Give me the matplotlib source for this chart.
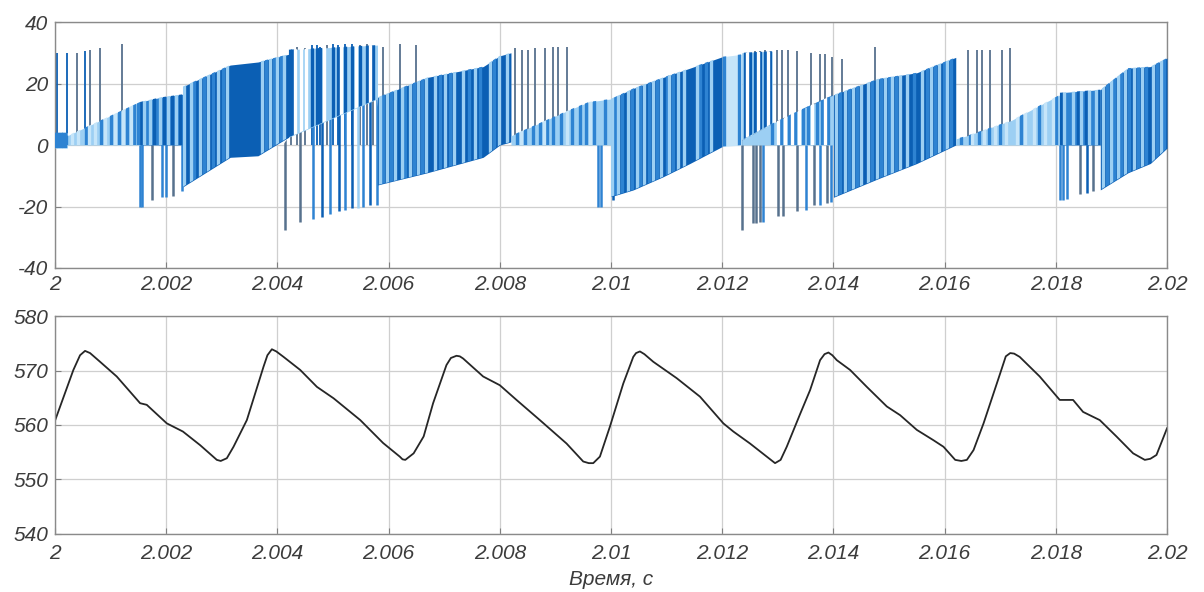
import numpy as np
import matplotlib
matplotlib.use("Agg")
import matplotlib.pyplot as plt
from matplotlib.patches import Polygon

# ---- axes / labels ----
xticks = [2.0, 2.002, 2.004, 2.006, 2.008, 2.01, 2.012, 2.014, 2.016, 2.018, 2.02]
xlabels = ['2', '2.002', '2.004', '2.006', '2.008', '2.01', '2.012', '2.014', '2.016', '2.018', '2.02']
i_ticks = [-40, -20, 0, 20, 40]
u_ticks = [540, 550, 560, 570, 580]
xlabel = 'Время, с'

# ---- current: dense PWM bands (time in ms after 2 s) ----
zA_t, zA_hi, zA_lo = [0.0, 0.22, 0.22, 1.53], [4, 4, 3, 14], [-1, -1, 0, 0]
zA_s1 = [0.02, 0.06, 0.10, 0.15, 0.19, 0.55, 0.82, 1.0, 1.15, 1.30, 1.42, 1.50]
zA_s2 = [0.30, 0.42, 0.62, 0.72, 0.90, 1.08, 1.22, 1.36]

zB_t, zB_hi, zB_lo = [1.53, 1.9, 2.3], [14, 15.5, 16.5], [0, 0, 0]
zB_s1 = [1.55, 1.78, 1.96, 2.10, 2.25]
zB_s2 = [1.60, 1.70, 1.88, 2.04, 2.18]

zC_t, zC_hi, zC_lo = [2.3, 3.15, 3.65, 4.2], [19, 26, 27, 29.5], [-13.6, -4, -3.5, 2.5]
zC_s1 = [2.50, 2.68, 2.84, 3.02, 3.80, 3.94, 4.06]
zC_s2 = [2.32, 2.44, 2.60, 2.76, 2.93, 3.10, 3.72, 3.86, 4.00, 4.12]

zD_t, zD_hi, zD_lo = [4.2, 5.8], [31, 32.5], [2.5, 15]
zD_s1 = [4.22, 4.26, 4.62, 4.71, 4.77, 5.0, 5.09, 5.22, 5.34, 5.49, 5.61, 5.72]
zD_s2 = [4.32, 4.42, 4.52, 4.84, 5.15, 5.42, 5.66]

zE_t, zE_hi, zE_lo = [5.8, 6.7, 7.7, 8.0, 8.2], [15.5, 22, 25.5, 29, 30], [-13, -9, -4, 0, 1]
zE_s1 = [5.90, 6.05, 6.30, 6.45, 6.60, 6.92, 7.10, 7.45, 7.65, 7.90]
zE_s2 = [5.84, 5.97, 6.12, 6.24, 6.38, 6.52, 6.68, 6.84, 7.02, 7.18, 7.34, 7.55, 7.82, 7.98, 8.12]

zF_t, zF_hi, zF_lo = [8.2, 9.26, 9.6, 10.0], [3, 11.5, 14, 15], [0, 0, 0, 0]
zF_s1 = [8.30, 8.45, 8.60, 8.72, 8.85, 8.95, 9.10, 9.30, 9.45, 9.55, 9.70, 9.90]
zF_s2 = [8.38, 8.80, 9.20, 9.62]

zG_t, zG_hi, zG_lo = [10.0, 10.4, 10.94, 11.42, 12.0], [15, 18.4, 22, 25, 28.7], [-16.8, -14.6, -10.3, -6, -0.5]
zG_s1 = [10.07, 10.20, 10.38, 10.52, 10.68, 10.83, 11.0, 11.12, 11.60, 11.70]
zG_s2 = [10.02, 10.12, 10.30, 10.46, 10.60, 10.75, 10.90, 11.05, 11.20, 11.32, 11.55, 11.80]

zH_t, zH_hi, zH_lo = [12.0, 12.35], [28.7, 29.5], [-0.5, 0]
zH_s1 = [12.03, 12.30]
zH_s2 = []

zI_t, zI_hi, zI_lo = [12.35, 12.9], [30, 30.5], [1.6, 7]
zI_s1 = [12.41, 12.50, 12.59, 12.68, 12.77, 12.86]
zI_s2 = [12.45, 12.64, 12.82]

zM_t, zM_hi, zM_lo = [12.35, 12.9, 13.4, 14.0], [1.6, 7, 11.4, 16.3], [0, 0, 0, 0]
zM_s1 = [12.9, 13.05, 13.2, 13.3, 13.45, 13.55, 13.7, 13.8, 13.9]
zM_s2 = [13.0, 13.12, 13.25, 13.38, 13.62, 13.85]

zJ_t, zJ_hi, zJ_lo = [14.0, 14.8, 15.5, 16.2], [16.3, 21.5, 23.5, 28.5], [-17, -11, -6, 0]
zJ_s1 = [14.12, 14.28, 14.42, 14.70, 14.85, 15.0, 15.12, 15.45, 15.68, 15.82, 15.98, 16.12]
zJ_s2 = [14.05, 14.20, 14.35, 14.50, 14.62, 14.78, 14.92, 15.05, 15.20, 15.32, 15.60, 15.75, 15.90, 16.05]

zK_t, zK_hi, zK_lo = [16.2, 16.4, 17.2, 18.07], [2, 3, 8, 16.3], [0, 0, 0, 0]
zK_s1 = [16.30, 16.45, 16.62, 16.80, 17.0, 17.38, 17.70, 18.0]
zK_s2 = [16.50, 16.70, 16.90, 17.10, 17.30, 17.45, 17.60, 17.80, 17.95]

zL_t, zL_hi, zL_lo = [18.07, 18.8], [17, 18], [0, 0]
zL_s1 = [18.10, 18.40, 18.55, 18.78]
zL_s2 = [18.15, 18.30, 18.45, 18.60, 18.72]

zN_t, zN_hi, zN_lo = [18.8, 19.3, 19.7, 20.0], [18, 25, 25.5, 28.3], [-14.6, -9, -6, -1]
zN_s1 = [18.92, 19.05, 19.18, 19.32, 19.48, 19.62, 19.82, 19.95]
zN_s2 = [18.85, 19.0, 19.12, 19.25, 19.40, 19.55, 19.75, 19.90]

# ---- current: single spikes ----
up_t = [0.04, 0.22, 0.40, 0.54, 0.63, 0.81, 1.20,
        4.25, 4.35, 4.50, 4.62, 4.71, 4.77, 4.90, 5.00, 5.09, 5.22, 5.34, 5.49, 5.61, 5.72, 5.90, 6.20, 6.50,
        8.27, 8.40, 8.50, 8.63, 8.81, 8.96, 9.05, 9.20,
        12.29, 12.41, 12.50, 12.59, 12.68, 12.77, 12.86, 12.98, 13.07, 13.18, 13.34, 13.60, 13.76, 13.85,
        13.97, 14.15, 14.75,
        16.42, 16.58, 16.67, 16.82, 17.03, 17.18]
up_top = [30, 30, 30, 30.5, 31, 31.5, 33,
          31, 32, 31.5, 32.5, 32.5, 32, 32.5, 33, 32.5, 33, 33, 32.5, 33, 32, 32, 33, 32.5,
          31.5, 31, 31, 31.5, 31.5, 32, 32, 32,
          29, 30, 30, 30.5, 30.5, 31, 30.5, 31, 31, 31, 30.5, 30, 29.5, 29.5,
          28.5, 28, 32,
          31, 31, 31, 31, 31, 31.5]
up_c = ['d', 'd', 'g', 'd', 'g', 'g', 'g',
        'g', 'g', 'g', 'd', 'd', 'd', 'g', 'd', 'd', 'd', 'd', 'g', 'g', 'g', 'g', 'g', 'g',
        'g', 'g', 'g', 'g', 'g', 'g', 'g', 'g',
        'd', 'd', 'd', 'g', 'g', 'g', 'g', 'g', 'g', 'g', 'g', 'g', 'g', 'g',
        'g', 'g', 'g',
        'g', 'g', 'g', 'g', 'g', 'g']

dn_t = [1.53, 1.57, 1.74, 1.92, 2.00, 2.13, 2.28,
        4.14, 4.40, 4.64, 4.80, 4.95, 5.10, 5.22, 5.34, 5.45, 5.54, 5.67, 5.79,
        9.76, 9.82, 10.04,
        12.35, 12.55, 12.60, 12.68, 12.73, 13.00, 13.10, 13.35, 13.50, 13.65, 13.76, 13.88, 13.95,
        18.07, 18.12, 18.20, 18.43, 18.56, 18.67]
dn_bot = [-20, -20, -18, -17, -17, -16.5, -15,
          -27.5, -25, -24, -23.5, -22.5, -21.5, -21, -20.5, -20.5, -20, -19.5, -19.5,
          -20, -20, -18,
          -27.6, -25.5, -25.5, -25, -25, -23, -23, -21.6, -21, -19.5, -19.5, -19, -18.5,
          -18, -18, -17.5, -16, -15.5, -15]
dn_c = ['m', 'm', 'g', 'm', 'm', 'g', 'm',
        'g', 'g', 'm', 'd', 'm', 'd', 'm', 'd', 'l', 'm', 'd', 'm',
        'm', 'm', 'd',
        'g', 'g', 'g', 'g', 'm', 'g', 'g', 'g', 'm', 'g', 'm', 'g', 'm',
        'm', 'm', 'm', 'g', 'd', 'g']
# upper limit of the downward spikes
ceil_t = [0, 4.1, 4.2, 5.8, 5.85, 12.3, 12.35, 12.9, 13.4, 14.0, 14.05, 20]
ceil_y = [0, 0, 2.5, 15, 0, 0, 1.6, 7, 11.4, 16.3, 0, 0]

# ---- DC link voltage ----
u_ms = [0.0, 0.33, 0.45, 0.54, 0.63, 0.81, 1.11, 1.53, 1.65, 2.01, 2.30, 2.61, 2.91, 2.98, 3.09, 3.21,
        3.45, 3.75, 3.82, 3.90, 3.98, 4.11, 4.41, 4.71, 5.01, 5.49, 5.90, 6.20, 6.25, 6.30, 6.45, 6.63,
        6.80, 7.04, 7.12, 7.22, 7.28, 7.34, 7.70, 8.00, 8.30, 8.72, 9.20, 9.50, 9.60, 9.68, 9.80, 9.98,
        10.22, 10.40, 10.45, 10.52, 10.60, 10.76, 11.18, 11.60, 12.02, 12.20, 12.50, 12.80, 12.95, 13.05,
        13.16, 13.40, 13.58, 13.76, 13.84, 13.91, 13.98, 14.06, 14.30, 14.60, 14.96, 15.20, 15.50, 15.80,
        15.98, 16.19, 16.30, 16.40, 16.52, 16.70, 17.00, 17.10, 17.18, 17.25, 17.35, 17.71, 18.07, 18.31,
        18.49, 18.79, 19.09, 19.39, 19.60, 19.70, 19.81, 20.0]
u_val = [560.8, 570.1, 572.8, 573.6, 573.2, 571.6, 568.9, 564.0, 563.7, 560.3, 558.8, 556.3, 553.6, 553.4,
         553.9, 556.0, 560.9, 570.7, 572.8, 573.9, 573.5, 572.5, 570.1, 567.0, 564.9, 560.9, 556.7, 554.2,
         553.7, 553.6, 554.8, 557.9, 564.0, 571.0, 572.3, 572.7, 572.6, 572.2, 568.9, 567.3, 564.6, 560.9,
         556.6, 553.3, 553.0, 553.0, 554.2, 559.7, 567.6, 572.5, 573.2, 573.5, 573.0, 571.6, 568.6, 565.2,
         560.3, 558.8, 556.6, 554.2, 553.0, 553.6, 556.0, 562.0, 566.4, 571.9, 573.0, 573.3, 572.8, 571.9,
         570.1, 567.0, 563.4, 561.8, 559.1, 557.2, 556.0, 553.6, 553.4, 553.6, 555.4, 560.3, 569.5, 572.6,
         573.2, 573.1, 572.5, 568.9, 564.6, 564.6, 562.4, 560.9, 557.9, 554.8, 553.6, 553.8, 554.5, 559.4]

DARK = '#0b5fb4'
MED = '#2e83d2'
LIGHT = '#9ccff3'
PALE = '#c6e5f9'
GREY = '#57718d'
cmap = {'d': DARK, 'm': MED, 'l': LIGHT, 'g': GREY, 'w': 'white'}

zones = [
    (zA_t, zA_hi, zA_lo, LIGHT, (zA_s1, MED), (zA_s2, PALE)),
    (zB_t, zB_hi, zB_lo, MED, (zB_s1, DARK), (zB_s2, LIGHT)),
    (zC_t, zC_hi, zC_lo, DARK, (zC_s1, MED), (zC_s2, LIGHT)),
    (zD_t, zD_hi, zD_lo, LIGHT, (zD_s1, DARK), (zD_s2, 'white')),
    (zE_t, zE_hi, zE_lo, DARK, (zE_s1, MED), (zE_s2, LIGHT)),
    (zF_t, zF_hi, zF_lo, LIGHT, (zF_s1, MED), (zF_s2, PALE)),
    (zG_t, zG_hi, zG_lo, DARK, (zG_s1, MED), (zG_s2, LIGHT)),
    (zH_t, zH_hi, zH_lo, PALE, (zH_s1, MED), (zH_s2, LIGHT)),
    (zI_t, zI_hi, zI_lo, LIGHT, (zI_s1, DARK), (zI_s2, 'white')),
    (zM_t, zM_hi, zM_lo, LIGHT, (zM_s1, MED), (zM_s2, 'white')),
    (zJ_t, zJ_hi, zJ_lo, DARK, (zJ_s1, MED), (zJ_s2, LIGHT)),
    (zK_t, zK_hi, zK_lo, LIGHT, (zK_s1, MED), (zK_s2, PALE)),
    (zL_t, zL_hi, zL_lo, MED, (zL_s1, DARK), (zL_s2, LIGHT)),
    (zN_t, zN_hi, zN_lo, DARK, (zN_s1, MED), (zN_s2, LIGHT)),
]


def sec(ms):
    return 2 + np.asarray(ms, dtype=float) / 1000


plt.rcParams['font.family'] = ['Liberation Sans', 'DejaVu Sans']
plt.rcParams['font.style'] = 'italic'
plt.rcParams['axes.unicode_minus'] = False

fig = plt.figure(figsize=(12.04, 5.92), dpi=100)
ax1 = fig.add_axes([0.0457, 0.5473, 0.9236, 0.4155])
ax2 = fig.add_axes([0.0457, 0.0980, 0.9236, 0.3682])

# spikes below the bands
ax1.vlines(sec(up_t), 0, up_top, colors=[cmap[c] for c in up_c], lw=1.3, zorder=2)
ceil = Polygon(np.column_stack([np.r_[sec(ceil_t), sec(ceil_t)[::-1]],
                                np.r_[ceil_y, [-40] * len(ceil_t)]]),
               closed=True, transform=ax1.transData, fc='none', ec='none')
ax1.add_patch(ceil)
dl = ax1.vlines(sec(dn_t), dn_bot, 40, colors=[cmap[c] for c in dn_c], lw=1.8, zorder=2)
dl.set_clip_path(ceil)

for t, hi, lo, base, st1, st2 in zones:
    tt = sec(t)
    ax1.fill_between(tt, lo, hi, color=base, lw=0, zorder=3)
    poly = Polygon(np.column_stack([np.r_[tt, tt[::-1]], np.r_[hi, lo[::-1]]]),
                   closed=True, transform=ax1.transData, fc='none', ec='none')
    ax1.add_patch(poly)
    for times, col in (st1, st2):
        if len(times) == 0:
            continue
        lc = ax1.vlines(sec(times), -40, 40, colors=col, lw=2.4, zorder=4)
        lc.set_clip_path(poly)

ax2.plot(sec(u_ms), u_val, color='#262626', lw=1.3)

for ax, yt, xpad in ((ax1, i_ticks, 5), (ax2, u_ticks, 7.5)):
    ax.set_xlim(2.0, 2.02)
    ax.set_ylim(yt[0], yt[-1])
    ax.set_xticks(xticks)
    ax.set_xticklabels(xlabels)
    ax.set_yticks(yt)
    ax.set_axisbelow(True)
    ax.grid(True, color='#cfcfcf', lw=0.9)
    ax.tick_params(direction='in', length=4, color='#808080', labelsize=15,
                   labelcolor='#3c3c3c')
    ax.tick_params(axis='x', pad=xpad)
    ax.tick_params(axis='y', pad=5)
    for s in ax.spines.values():
        s.set_color('#8a8a8a')
        s.set_linewidth(1.0)

ax2.set_xlabel(xlabel, fontsize=15, color='#3c3c3c', labelpad=5)

fig.savefig('out.png', dpi=100)
